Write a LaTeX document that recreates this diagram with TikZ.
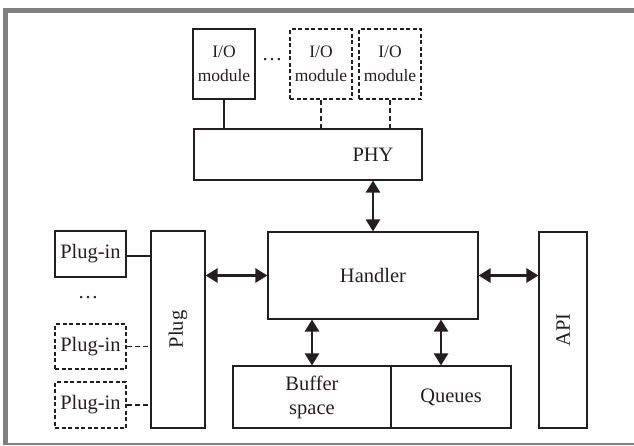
\documentclass[tikz,border=0pt]{standalone}
\usepackage{fontspec}
\setmainfont{Liberation Serif}
\usetikzlibrary{arrows.meta,calc}
\definecolor{ink}{HTML}{231F20}
\definecolor{frame}{HTML}{808080}
\begin{document}
\begin{tikzpicture}[x=1pt,y=-1pt,
  box/.style={draw=ink, line width=1.1pt, inner sep=0pt, align=center,
    font=\fontsize{20.5}{24}\selectfont, text=ink},
  dbox/.style={box, dash pattern=on 4pt off 2.5pt},
  iobox/.style={box, minimum width=62pt, minimum height=70pt, font=\fontsize{17.5}{24}\selectfont},
  link/.style={draw=ink, line width=1.1pt},
  dlink/.style={link, dash pattern=on 5pt off 3pt},
  biarrow/.style={draw=ink, line width=2.6pt, {Triangle[length=12pt,width=14pt]}-{Triangle[length=12pt,width=14pt]}},
  lbl/.style={font=\fontsize{20.5}{24}\selectfont, text=ink, inner sep=0pt}]
\useasboundingbox (0,0) rectangle (634,445);
% outer frame
\fill[frame] (3,8) rectangle (634,13);
\fill[frame] (3,8) rectangle (8,445);
\fill[frame] (3,443) rectangle (634,445);
% I/O modules and PHY
\node[iobox] (io1) at (224,64) {I/O\\module};
\node[lbl] (iodots) at (272,60) {\dots};
\node[iobox, dash pattern=on 4pt off 2.5pt] (io2) at (321,64) {I/O\\module};
\node[iobox, dash pattern=on 4pt off 2.5pt] (io3) at (390,64) {I/O\\module};
\node[box, minimum width=228pt, minimum height=51pt] (phy) at (308,154.5) {};
% Handler
\node[box, minimum width=210pt, minimum height=87pt] (handler) at (373,275.5) {Handler};
\node[lbl] (phytext) at (phy.center -| handler.north) {PHY};
\draw[link] (io1.south) -- (io1.south |- phy.north);
\draw[dlink] (io2.south) -- (io2.south |- phy.north);
\draw[dlink] (io3.south) -- (io3.south |- phy.north);
\draw[biarrow] (phy.south -| handler.north) -- (handler.north);
% Plug and API
\node[box, minimum width=54pt, minimum height=197pt] (plug) at (178,329.5) {};
\node[lbl, rotate=90] (plugtext) at (plug.center) {Plug};
\node[box, minimum width=48pt, minimum height=196pt] (api) at (563,330) {};
\node[lbl, rotate=90] (apitext) at (api.center) {API};
\draw[biarrow] (plug.east |- handler.west) -- (handler.west);
\draw[biarrow] (handler.east) -- (handler.east -| api.west);
% Buffer and Queues
\node[box, minimum width=158pt, minimum height=62pt] (buffer) at (312,397) {Buffer\\space};
\node[box, minimum width=120pt, minimum height=62pt] (queues) at (451,397) {Queues};
\draw[biarrow] (handler.south -| buffer.north) -- (buffer.north);
\draw[biarrow] ($(handler.south -| queues.north)+(-10,0)$) -- ($(queues.north)+(-10,0)$);
% Plug-ins
\node[box, minimum width=71pt, minimum height=46pt] (pi1) at (90.5,254) {Plug-in};
\node[lbl] (pidots) at (88,298) {\dots};
\node[dbox, minimum width=71pt, minimum height=45pt] (pi2) at (90.5,346.5) {Plug-in};
\node[dbox, minimum width=71pt, minimum height=46pt] (pi3) at (90.5,405) {Plug-in};
\draw[link] ($(pi1.east)+(0,2)$) -- ($(pi1.east -| plug.west)+(0,2)$);
\draw[dlink] (pi2.east) -- (pi2.east -| plug.west);
\draw[dlink] (pi3.east) -- (pi3.east -| plug.west);
\end{tikzpicture}
\end{document}
